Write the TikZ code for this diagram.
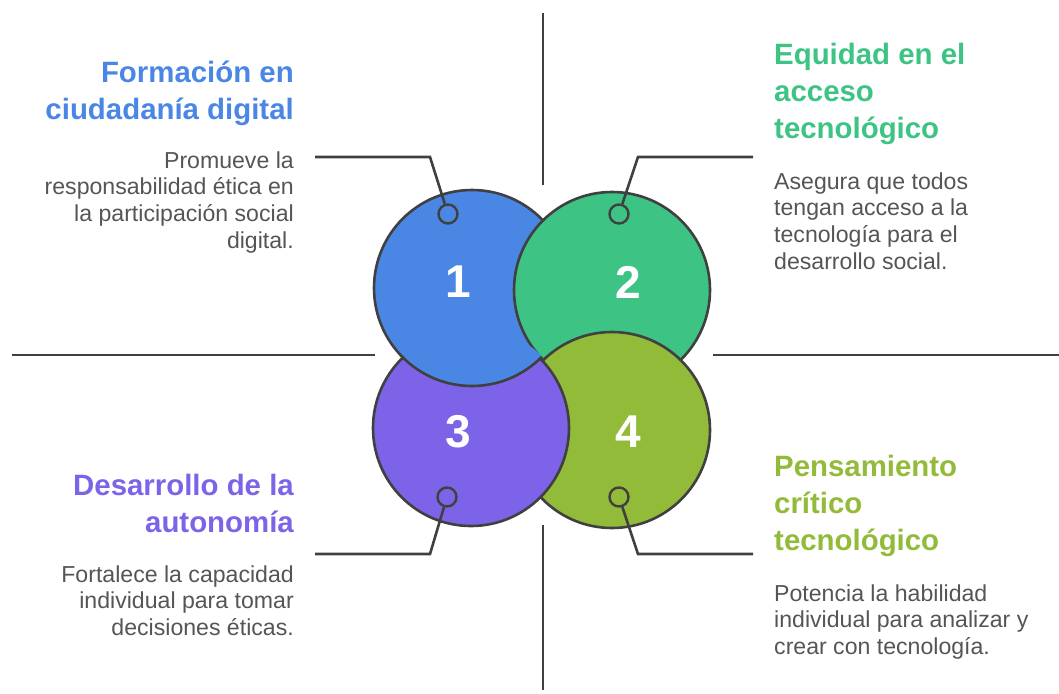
\documentclass[tikz,border=0pt]{standalone}
\usepackage{fontspec}
\setmainfont{Liberation Sans}
\definecolor{cBlue}{HTML}{4A86E4}
\definecolor{cGreen}{HTML}{3DC484}
\definecolor{cPurple}{HTML}{7C63E8}
\definecolor{cOlive}{HTML}{92BB3A}
\definecolor{lineC}{HTML}{404040}
\definecolor{textC}{HTML}{555555}
\begin{document}
\begin{tikzpicture}[x=1pt,y=-1pt,
  big/.style={circle, draw=lineC, line width=2.6pt, minimum size=196pt, inner sep=0pt},
  marker/.style={circle, draw=lineC, line width=2.4pt, minimum size=19pt, inner sep=0pt},
  conn/.style={draw=lineC, line width=2.6pt},
  axis/.style={draw=lineC, line width=2.6pt},
  title/.style={font=\fontsize{29.4}{37}\selectfont\bfseries, inner sep=0pt},
  body/.style={font=\fontsize{23.1}{26.7}\selectfont, text=textC, inner sep=0pt},
  num/.style={font=\fontsize{46}{46}\selectfont\bfseries, text=white, inner sep=0pt}]
\useasboundingbox (0,0) rectangle (1059,693);

% axes
\coordinate (vt1) at (543,13);  \coordinate (vt2) at (543,185);
\coordinate (vb1) at (543,525); \coordinate (vb2) at (543,690);
\coordinate (hl1) at (12,355);  \coordinate (hl2) at (375,355);
\coordinate (hr1) at (713,355); \coordinate (hr2) at (1059,355);
\draw[axis] (vt1) -- (vt2);
\draw[axis] (vb1) -- (vb2);
\draw[axis] (hl1) -- (hl2);
\draw[axis] (hr1) -- (hr2);

% circles (cyclic overlap)
\node[big, fill=cBlue] (c1) at (472,288) {};
\node[big, fill=cGreen] (c2) at (612,290) {};
\node[big, fill=cOlive] (c4) at (612,430) {};
\node[big, fill=cPurple] (c3) at (471,428) {};
\begin{scope}
  \clip (471,428) circle (101);
  \clip (360,300) rectangle (541,400);
  \draw[fill=cBlue, draw=lineC, line width=2.6pt] (472,288) circle (98);
\end{scope}

% numbers
\node[num] (n1) at (458,282) {1};
\node[num] (n2) at (628,282) {2};
\node[num] (n3) at (458,432) {3};
\node[num] (n4) at (628,432) {4};

% markers
\node[marker, fill=cBlue] (m1) at (448,214) {};
\node[marker, fill=cGreen] (m2) at (619,214) {};
\node[marker, fill=cPurple] (m3) at (447,497) {};
\node[marker, fill=cOlive] (m4) at (619,497) {};

% connectors
\coordinate (l1) at (315,157); \coordinate (k1) at (430,157);
\coordinate (l2) at (753,157); \coordinate (k2) at (638,157);
\coordinate (l3) at (315,554); \coordinate (k3) at (430,554);
\coordinate (l4) at (753,554); \coordinate (k4) at (638,554);
\draw[conn] (l1) -- (k1) -- (m1);
\draw[conn] (l2) -- (k2) -- (m2);
\draw[conn] (l3) -- (k3) -- (m3);
\draw[conn] (l4) -- (k4) -- (m4);

% texts
\node[title, text=cBlue, align=right, anchor=north east] (t1) at (294,52)
  {\rule{0pt}{30pt}Formación en\\ciudadanía digital};
\node[body, align=right, anchor=north east] (b1) at (294,144)
  {\rule{0pt}{24pt}Promueve la\\responsabilidad ética en\\la participación social\\digital.};
\node[title, text=cGreen, align=left, anchor=north west] (t2) at (774,34)
  {\rule{0pt}{30pt}Equidad en el\\acceso\\tecnológico};
\node[body, align=left, anchor=north west] (b2) at (774,165)
  {\rule{0pt}{24pt}Asegura que todos\\tengan acceso a la\\tecnología para el\\desarrollo social.};
\node[title, text=cPurple, align=right, anchor=north east] (t3) at (294,465)
  {\rule{0pt}{30pt}Desarrollo de la\\autonomía};
\node[body, align=right, anchor=north east] (b3) at (294,558)
  {\rule{0pt}{24pt}Fortalece la capacidad\\individual para tomar\\decisiones éticas.};
\node[title, text=cOlive, align=left, anchor=north west] (t4) at (774,446)
  {\rule{0pt}{30pt}Pensamiento\\crítico\\tecnológico};
\node[body, align=left, anchor=north west] (b4) at (774,577)
  {\rule{0pt}{24pt}Potencia la habilidad\\individual para analizar y\\crear con tecnología.};
\end{tikzpicture}
\end{document}
